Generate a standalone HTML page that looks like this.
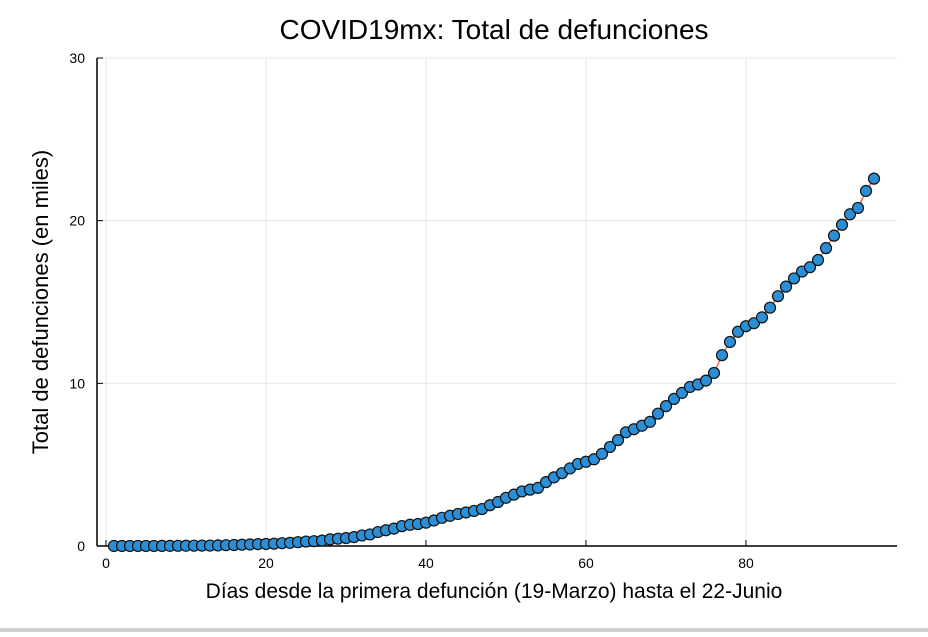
<!DOCTYPE html>
<html><head><meta charset="utf-8"><style>
body{margin:0;background:#fff;width:928px;height:632px;overflow:hidden}
svg text{font-family:"Liberation Sans",sans-serif}
</style></head><body>
<svg id="c" width="928" height="632">
<rect x="0" y="628" width="928" height="4" fill="#d0d0d0"/>
<text x="494" y="39" font-size="28" text-anchor="middle">COVID19mx: Total de defunciones</text>
<text x="494" y="598" font-size="21" text-anchor="middle">Días desde la primera defunción (19-Marzo) hasta el 22-Junio</text>
<text transform="translate(48,302) rotate(-90)" font-size="22" text-anchor="middle">Total de defunciones (en miles)</text>
<g id="grid"></g><g id="axes"></g><g id="series"></g>
</svg>
<script>
const days=[];for(let i=1;i<=96;i++)days.push(i);
const deaths=[0.001,0.002,0.002,0.003,0.004,0.005,0.006,0.008,0.012,0.016,0.020,0.024,0.028,0.037,
0.050,0.060,0.079,0.094,0.117,0.125,0.141,
0.174,0.194,0.233,0.273,0.296,0.332,0.406,
0.449,0.486,0.546,0.650,0.712,0.857,0.970,
1.069,1.221,1.305,1.351,1.434,1.569,1.732,
1.859,1.972,2.061,2.154,2.271,2.507,2.704,
2.961,3.160,3.353,3.465,3.573,3.926,
4.220,4.477,4.767,5.045,5.177,5.332,5.666,6.090,6.510,6.989,7.179,
7.394,7.633,8.134,8.597,9.044,9.415,9.779,9.930,10.167,10.637,
11.729,12.545,13.170,13.511,13.699,14.053,14.649,15.357,15.944,16.448,
16.872,17.141,17.580,18.310,19.080,19.747,20.394,20.781,21.825,22.584];
const xTicks=[0,20,40,60,80];
const yTicks=[0,10,20,30];
const NS="http://www.w3.org/2000/svg";
const X=v=>106+v*8.0, Y=v=>546-v*(488/30);
function mk(p,t,a){const e=document.createElementNS(NS,t);for(const k in a)e.setAttribute(k,a[k]);p.appendChild(e);return e;}
const g=document.getElementById('grid'),ax=document.getElementById('axes'),s=document.getElementById('series');
xTicks.forEach(t=>{
 const l=mk(g,'line',{x1:X(t),x2:X(t),y1:58,y2:546,stroke:'#e8e8e8','stroke-width':1});
 
 const k=mk(ax,'line',{x1:X(t),x2:X(t),y1:546,y2:540,stroke:'#000'});
 
 const tx=mk(ax,'text',{x:X(t),y:568,'font-size':14,'text-anchor':'middle'});tx.textContent=t;
 
});
yTicks.forEach(t=>{
 const l=mk(g,'line',{x1:97,x2:897,y1:Y(t),y2:Y(t),stroke:'#e8e8e8','stroke-width':1});
 
 const k=mk(ax,'line',{x1:97,x2:103,y1:Y(t),y2:Y(t),stroke:'#000'});
 
 const tx=mk(ax,'text',{x:85,y:Y(t)+5,'font-size':14,'text-anchor':'end'});tx.textContent=t;
 
});
const xa=mk(ax,'line',{x1:97,x2:897,y1:546,y2:546,stroke:'#000','stroke-width':1.5});

const ya=mk(ax,'line',{x1:97,x2:97,y1:58,y2:546,stroke:'#000','stroke-width':1.5});

const pl=mk(s,'polyline',{points:days.map((d,i)=>X(d)+','+Y(deaths[i])).join(' '),fill:'none',stroke:'#e26f46','stroke-width':1.5});

days.forEach((d,i)=>{
 const c=mk(s,'circle',{cx:X(d),cy:Y(deaths[i]),r:5.5,fill:'#2a8fd6',stroke:'#111','stroke-width':1.2});
 
});
</script>
</body></html>
